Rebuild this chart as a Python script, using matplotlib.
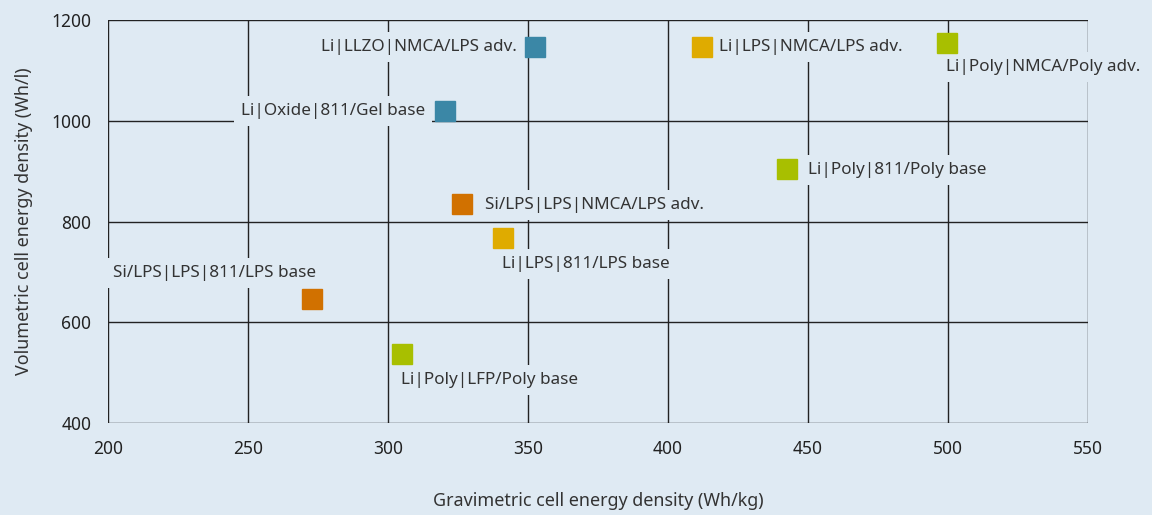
import matplotlib.pyplot as plt

# cell concepts: gravimetric (Wh/kg) vs volumetric (Wh/l)
labels = [
    "Li|LLZO|NMCA/LPS adv.",
    "Li|Oxide|811/Gel base",
    "Li|LPS|NMCA/LPS adv.",
    "Li|Poly|NMCA/Poly adv.",
    "Li|Poly|811/Poly base",
    "Si/LPS|LPS|NMCA/LPS adv.",
    "Li|LPS|811/LPS base",
    "Si/LPS|LPS|811/LPS base",
    "Li|Poly|LFP/Poly base",
]
grav = [352.5, 320.5, 412, 499.5, 442.5, 326.5, 341, 273, 305]
vol = [1146, 1019, 1146, 1154, 904, 835, 767, 646, 537]
family = ["oxide", "oxide", "sulfide", "polymer", "polymer",
          "silicon", "sulfide", "silicon", "polymer"]

colors = {"oxide": "#3b87a6", "sulfide": "#dfab00",
          "polymer": "#a8bf00", "silicon": "#d17100"}

# label placement (offset in pixels, horizontal alignment)
offsets = [(-18, 0, "right"), (-20, 0, "right"), (17, 0, "left"),
           (-1, -24, "left"), (21, -1, "left"), (23, -1, "left"),
           (-1, -26, "left"), (4, 26, "right"), (-1, -26, "left")]

BG = "#dfeaf3"
plt.rcParams["font.family"] = ["Noto Sans", "DejaVu Sans"]

fig = plt.figure(figsize=(11.52, 5.15), dpi=100, facecolor=BG)
ax = fig.add_axes([0.09375, 0.1786, 0.8507, 0.7826])
ax.set_facecolor(BG)

for x, y, fam in zip(grav, vol, family):
    ax.plot(x, y, marker="s", markersize=15, color=colors[fam],
            linestyle="none", zorder=4)

for lab, x, y, (dx, dy, ha) in zip(labels, grav, vol, offsets):
    ax.annotate(lab, (x, y), xytext=(dx, dy), textcoords="offset pixels",
                ha=ha, va="center", fontsize=12.3, color="#333333", zorder=3,
                bbox=dict(boxstyle="square,pad=0.4", fc=BG, ec="none"))

ax.set_xlim(200, 550)
ax.set_ylim(400, 1200)
ax.set_xticks(range(200, 551, 50))
ax.set_yticks(range(400, 1201, 200))
ax.grid(True, color="#222222", linewidth=1)
ax.set_axisbelow(True)
for s in ax.spines.values():
    s.set_visible(False)
ax.tick_params(length=0, labelsize=12.5, labelcolor="#222222")
ax.tick_params(axis="x", pad=12)
ax.tick_params(axis="y", pad=12)

ax.set_xlabel("Gravimetric cell energy density (Wh/kg)", fontsize=12.9,
              color="#333333", labelpad=25)
ax.set_ylabel("Volumetric cell energy density (Wh/l)", fontsize=12.9,
              color="#333333", labelpad=13)

fig.savefig("out.png", dpi=100, facecolor=BG)
